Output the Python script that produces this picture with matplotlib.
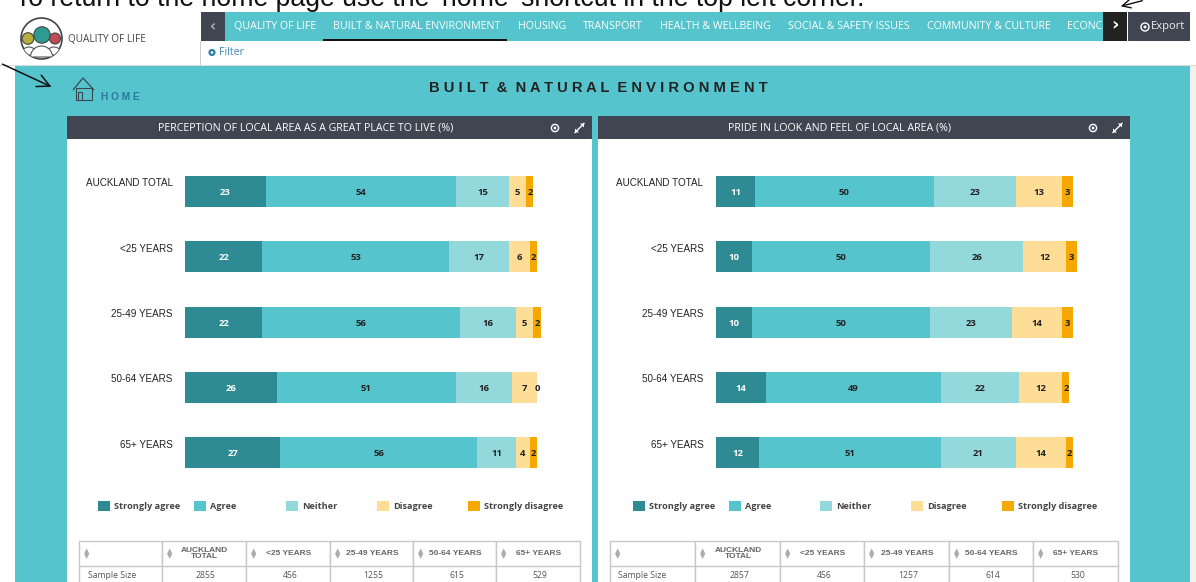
import matplotlib
matplotlib.use("Agg")
import matplotlib.pyplot as plt
from matplotlib.patches import Rectangle, Circle, Polygon, Wedge

categories = ["AUCKLAND TOTAL", "<25 YEARS", "25-49 YEARS", "50-64 YEARS", "65+ YEARS"]
series_names = ["Strongly agree", "Agree", "Neither", "Disagree", "Strongly disagree"]
colors = ["#2E8B94", "#55C4CC", "#93D9DC", "#FEDD97", "#F5A800"]

left_title = "PERCEPTION OF LOCAL AREA AS A GREAT PLACE TO LIVE (%)"
left_strong_agree = [23, 22, 22, 26, 27]
left_agree = [54, 53, 56, 51, 56]
left_neither = [15, 17, 16, 16, 11]
left_disagree = [5, 6, 5, 7, 4]
left_strong_disagree = [2, 2, 2, 0, 2]

right_title = "PRIDE IN LOOK AND FEEL OF LOCAL AREA (%)"
right_strong_agree = [11, 10, 10, 14, 12]
right_agree = [50, 50, 50, 49, 51]
right_neither = [23, 26, 23, 22, 21]
right_disagree = [13, 12, 14, 12, 14]
right_strong_disagree = [3, 3, 3, 2, 2]

table_headers = ["AUCKLAND\nTOTAL", "<25 YEARS", "25-49 YEARS", "50-64 YEARS", "65+ YEARS"]
left_sample = [2855, 456, 1255, 615, 529]
right_sample = [2857, 456, 1257, 614, 530]

nav_items = ["QUALITY OF LIFE", "BUILT & NATURAL ENVIRONMENT", "HOUSING", "TRANSPORT",
             "HEALTH & WELLBEING", "SOCIAL & SAFETY ISSUES", "COMMUNITY & CULTURE", "ECONC"]
nav_x = [234, 333, 518, 583, 660, 788, 927, 1067]

TEAL = "#55C4CC"
DARK = "#3F4652"
UI = "Open Sans"
W, H = 1196, 582

fig = plt.figure(figsize=(W / 100, H / 100), dpi=100, facecolor="white")
bg = fig.add_axes([0, 0, 1, 1])
bg.set_xlim(0, W)
bg.set_ylim(H, 0)
bg.axis("off")


def rect(x0, y0, x1, y1, c, **kw):
    bg.add_patch(Rectangle((x0, y0), x1 - x0, y1 - y0, fc=c, ec=kw.pop("ec", "none"), **kw))


def txt(x, y, s, size, c="#333333", ha="left", va="center", **kw):
    kw.setdefault("family", UI)
    return bg.text(x, y, s, fontsize=size, color=c, ha=ha, va=va, **kw)


# instruction line, cut off by the top edge as in the reference
txt(15, 5.5, "To return to the home page use the 'home' shortcut in the top left corner.",
    19.2, "#111111", va="baseline", family="Liberation Sans", clip_on=True)

# navigation
rect(15, 66, 1190, H, TEAL)
rect(1190, 66, 1196, H, "#F1F1F1")
rect(201, 12, 225, 41, DARK)
rect(225, 12, 1103, 41, TEAL)
rect(1103, 12, 1127, 41, "#222222")
rect(1128, 12, 1190, 41, DARK)
rect(200, 41, 201, 66, "#CCCCCC")
rect(0, 65, 1196, 66, "#DDDDDD")
rect(323, 39, 507, 41, "#111111")
for x, s in zip(nav_x, nav_items):
    t = txt(x, 26.5, s, 7.7, "white")
    t.set_clip_path(Rectangle((225, 12), 878, 29, transform=bg.transData))
txt(213, 26.5, "‹", 11, "#AAB0B8", ha="center", family="DejaVu Sans", fontweight="bold")
txt(1115, 25.5, "›", 13, "white", ha="center", family="DejaVu Sans", fontweight="bold")
txt(1151, 27, "Export", 8, "#EEEEEE")
bg.add_patch(Circle((1145, 27), 4, fc="none", ec="white", lw=1))
bg.add_patch(Circle((1145, 27), 1.5, fc="white", ec="none"))
bg.add_patch(Circle((212, 52.5), 3.6, fc="#2E7FA8", ec="none"))
bg.add_patch(Circle((212, 52.5), 1.3, fc="white", ec="none"))
txt(219, 52.5, "Filter", 7.7, "#3F86B0")

# logo
ring = Circle((41.5, 38.5), 20.5, fc="white", ec="#444444", lw=1.2)
bg.add_patch(ring)
for cx, cy, r in [(29, 55, 8), (54, 55, 8), (41.5, 57, 11)]:
    body = Wedge((cx, cy), r, 180, 360, fc="white", ec="#555555", lw=0.8)
    bg.add_patch(body)
    body.set_clip_path(ring)
bg.add_patch(Circle((28, 38.5), 5.8, fc="#B7AE3C", ec="#444444", lw=0.8))
bg.add_patch(Circle((55, 38.5), 5.5, fc="#C24A57", ec="#444444", lw=0.8))
bg.add_patch(Circle((42, 35), 8.2, fc="#2E9B93", ec="#444444", lw=0.8))
txt(68, 39, "QUALITY OF LIFE", 7.2, "#444444")

# home icon and arrows
bg.add_patch(Polygon([(73, 90), (83, 78), (94, 90)], closed=False, fc="none", ec="#3A4A55", lw=0.9))
rect(76, 88, 92, 100, "none", ec="#3A4A55", lw=0.8)
rect(78, 92, 82, 100, "none", ec="#3A4A55", lw=0.8)
txt(101, 96.5, "H O M E", 7.3, "#2B78A0", family="Liberation Sans", fontweight="bold")
bg.annotate("", xy=(54, 88), xytext=(0, 63),
            arrowprops=dict(arrowstyle="->,head_width=0.45,head_length=0.9", color="#111111", lw=1.1))
bg.annotate("", xy=(1118, 7), xytext=(1145, 0),
            arrowprops=dict(arrowstyle="->,head_width=0.3,head_length=0.6", color="#111111", lw=1.0))
txt(598, 88, "B U I L T  &  N A T U R A L  E N V I R O N M E N T", 10.6, "#222222",
    ha="center", family="Liberation Sans", fontweight="bold")


def panel(x0, x1, title, rows, px_per_unit, bar_x, leg_x, tab_x, sample):
    rect(x0, 116, x1, H, "white")
    rect(x0, 116, x1, 139, DARK)
    txt((x0 + x1) / 2 - 24, 128, title, 7.65, "white", ha="center")
    ic = x1 - 37
    bg.add_patch(Circle((ic, 128), 3.6, fc="none", ec="white", lw=1))
    bg.add_patch(Circle((ic, 128), 1.4, fc="white", ec="none"))
    ex0, ey0, ex1, ey1 = x1 - 17, 132.5, x1 - 8, 123.5
    bg.plot([ex0, ex1], [ey0, ey1], color="white", lw=1)
    bg.add_patch(Polygon([(ex1, ey1), (ex1 - 4, ey1), (ex1, ey1 + 4)], fc="white", ec="none"))
    bg.add_patch(Polygon([(ex0, ey0), (ex0 + 4, ey0), (ex0, ey0 - 4)], fc="white", ec="none"))

    ax_w = 390
    ax = fig.add_axes([bar_x / W, 1 - 485 / H, ax_w / W, (485 - 159) / H])
    ax.patch.set_alpha(0)
    ax.set_xlim(0, ax_w / px_per_unit)
    ax.set_ylim(4 + (485 - 452.5) / 65.25, -(191.5 - 159) / 65.25)
    ax.axis("off")
    lefts = [0] * len(categories)
    for vals, col, name in zip(rows, colors, series_names):
        ax.barh(range(len(categories)), vals, left=lefts, height=31 / 65.25, color=col, label=name)
        for i, v in enumerate(vals):
            ax.text(lefts[i] + v / 2, i + 1 / 65.25, str(v), ha="center", va="center", family=UI,
                    fontweight="bold", fontsize=6.8, color="white" if col == colors[0] else "#222222")
        lefts = [a + b for a, b in zip(lefts, vals)]
    for i, c in enumerate(categories):
        ax.text(-12.5 / px_per_unit, i - 8 / 65.25, c, ha="right", va="center", fontsize=7.1,
                color="#222222", family="Liberation Sans")

    for x, name, col in zip(leg_x, series_names, colors):
        rect(x, 501, x + 12, 510.5, col)
        txt(x + 16, 506.5, name, 6.55, "#444444", fontweight="bold")

    tl = tab_x
    for i in range(len(tl) - 1):
        rect(tl[i], 541, tl[i + 1], H + 5, "white", ec="#C8C8C8", lw=1)
    bg.plot([tl[0], tl[-1]], [566, 566], color="#C8C8C8", lw=1)
    txt(tl[0] + 8.5, 575, "Sample Size", 6.2, "#555555")
    for i, s in enumerate(table_headers):
        a, b = tl[i + 1], tl[i + 2]
        txt(a + 8, 553.5, "▲\n▼", 5, "#AAAAAA", ha="center", family="DejaVu Sans", linespacing=0.8)
        txt((a + b) / 2 + 0.5, 553.5, s, 6.0, "#666666", ha="center", fontweight="bold",
            family="Liberation Sans", linespacing=1.0)
        txt((a + b) / 2 + 2, 575, str(sample[i]), 6.2, "#555555", ha="center")
    txt(tl[0] + 8, 553.5, "▲\n▼", 5, "#AAAAAA", ha="center", family="DejaVu Sans", linespacing=0.8)


panel(67, 592, left_title,
      [left_strong_agree, left_agree, left_neither, left_disagree, left_strong_disagree],
      3.52, 185, [98, 194, 286, 377, 468], [79, 162, 246, 330, 413, 496, 580], left_sample)
panel(598, 1130, right_title,
      [right_strong_agree, right_agree, right_neither, right_disagree, right_strong_disagree],
      3.57, 716, [633, 729, 820, 911, 1002], [610, 695, 780, 864, 949, 1033, 1118], right_sample)

fig.savefig("out.png", dpi=100)
